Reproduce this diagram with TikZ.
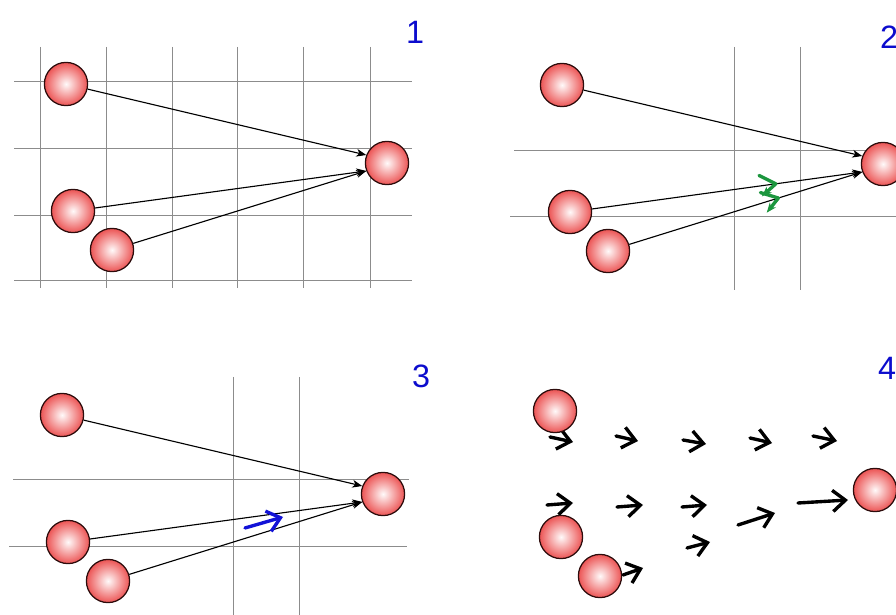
\documentclass[tikz,border=0pt]{standalone}
\usepackage{fontspec}
\setmainfont{Liberation Sans}
\usetikzlibrary{arrows.meta,decorations.markings}
\definecolor{ballred}{RGB}{236,84,84}
\definecolor{balledge}{RGB}{45,12,12}
\definecolor{numblue}{RGB}{12,12,205}
\definecolor{kickgreen}{RGB}{28,150,62}
\definecolor{sumblue}{RGB}{18,18,215}

\begin{document}
\begin{tikzpicture}[x=0.025cm, y=-0.025cm,
    ball/.style={circle, draw=balledge, line width=0.9pt, minimum size=1.08cm, inner sep=0pt, inner color=red!2, outer color=ballred},
    gridline/.style={black!45, line width=0.6pt},
    pull/.style={-{Stealth[length=7pt,width=5.5pt,inset=2pt]}, line width=0.8pt},
    push/.style={-{Straight Barb[length=9pt,width=15pt]}, line width=2.4pt, line cap=round},
    num/.style={text=numblue, font=\fontsize{23}{26}\selectfont, inner sep=0pt},
    kick/.style={postaction={decorate}, decoration={markings, mark=at position #1 with {\draw[kickgreen, line width=2.4pt, line cap=round, line join=round] (-11pt,7.5pt) -- (0,0) -- (-11pt,-7.5pt);}}}
]
\useasboundingbox (0,0) rectangle (896,615);
\clip (0,0) rectangle (896,615);

% panel 1
\foreach \x in {40,106,172,237,303,370} \draw[gridline] (\x,47) -- (\x,288);
\foreach \y in {81,148,215,280} \draw[gridline] (14,\y) -- (412,\y);
\node[ball] (a1) at (66,84) {};
\node[ball] (b1) at (73,211) {};
\node[ball] (c1) at (112,250) {};
\node[ball] (t1) at (387,163) {};
\node[num] (n1) at (415,32) {1};
\draw[pull] (a1) -- (t1.159);
\draw[pull] (b1) -- (t1.201);
\draw[pull] (c1) -- (t1.201);

% panel 2
\foreach \x in {734,800} \draw[gridline] (\x,47) -- (\x,290);
\draw[gridline] (514,150) -- (896,150);
\draw[gridline] (510,216) -- (896,216);
\node[ball] (a2) at (562,85) {};
\node[ball] (b2) at (570,212) {};
\node[ball] (c2) at (608,251) {};
\node[ball] (t2) at (883,164) {};
\node[num] (n2) at (889,37) {2};
\draw[pull] (a2) -- (t2.159);
\draw[pull, kick=0.68] (b2) -- (t2.201);
\draw[pull, kick=0.64] (c2) -- (t2.201);

% panel 3
\foreach \x in {233,299} \draw[gridline] (\x,377) -- (\x,615);
\draw[gridline] (13,479) -- (409,479);
\draw[gridline] (9,546) -- (407,546);
\node[ball] (a3) at (62,415) {};
\node[ball] (b3) at (68,542) {};
\node[ball] (c3) at (108,581) {};
\node[ball] (t3) at (383,494) {};
\node[num] (n3) at (421,376) {3};
\draw[pull] (a3) -- (t3.159);
\draw[pull] (b3) -- (t3.201);
\draw[pull] (c3) -- (t3.201);
\draw[push, sumblue] (245,528) -- (283,517);

% panel 4
\foreach \sx/\sy/\ex/\ey in {550/437/573/442, 616/436/638/441, 683/440/706/444, 750/438/772/443, 813/436/837/441,
    547/505/573/503, 617/507/643/505, 682/507/707/505, 738/525/775/513, 798/503/848/500,
    687/548/710/542, 623/575/643/568}
  \draw[push] (\sx,\sy) -- (\ex,\ey);
\node[ball] (a4) at (555,411) {};
\node[ball] (b4) at (561,537) {};
\node[ball] (c4) at (600,576) {};
\node[ball] (t4) at (875,490) {};
\node[num] (n4) at (887,368) {4};
\end{tikzpicture}
\end{document}
